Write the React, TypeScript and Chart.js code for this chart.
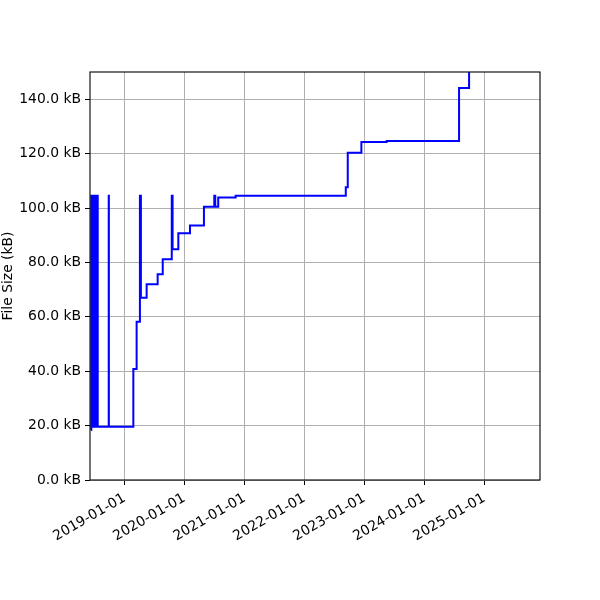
import { useEffect, useRef } from "react";
import { Chart, registerables } from "chart.js";
import type { Plugin } from "chart.js";

Chart.register(...registerables);

// commit dates and file size (kB) at each commit
const commitDates = [
  "2018-06-11", "2018-06-13", "2018-06-16", "2018-06-18", "2018-06-21",
  "2018-06-23", "2018-06-26", "2018-06-28", "2018-07-01", "2018-07-03",
  "2018-07-06", "2018-07-08", "2018-07-11", "2018-07-13", "2018-07-16",
  "2018-07-18", "2018-07-22", "2018-09-27", "2018-09-28", "2019-02-24",
  "2019-03-16", "2019-04-05", "2019-04-11", "2019-05-16", "2019-07-22",
  "2019-08-22", "2019-10-16", "2019-10-21", "2019-11-25", "2020-02-04",
  "2020-04-29", "2020-07-01", "2020-07-07", "2020-07-25", "2020-11-08",
  "2022-09-10", "2022-09-22", "2022-12-14", "2023-05-17", "2024-07-31",
  "2024-09-30", "2025-10-15",
];
const fileSizes = [
  18.4, 104.5, 19.6, 104.5, 19.6,
  104.5, 19.6, 104.5, 19.6, 104.5,
  19.6, 104.5, 19.6, 104.5, 19.6,
  104.5, 19.6, 104.5, 19.6, 40.8,
  58.2, 104.5, 67.0, 72.0, 75.6,
  81.2, 104.5, 84.8, 90.7, 93.6,
  100.5, 104.5, 100.5, 103.9, 104.5,
  107.6, 120.3, 124.3, 124.6, 144.1,
  158.0, 158.0,
];
const yearTicks = [
  "2019-01-01", "2020-01-01", "2021-01-01", "2022-01-01",
  "2023-01-01", "2024-01-01", "2025-01-01",
];
const sizeTicks = [0, 20, 40, 60, 80, 100, 120, 140];
const xRange = ["2018-06-05", "2025-12-06"];

const FONT = "'DejaVu Sans', sans-serif";
const FONT_SIZE = 13.9;

const framePlugin: Plugin = {
  id: "frame",
  afterDatasetsDraw(chart) {
    const { ctx, chartArea } = chart;
    ctx.save();
    ctx.strokeStyle = "#000";
    ctx.lineWidth = 1.1;
    ctx.strokeRect(
      chartArea.left,
      chartArea.top,
      chartArea.right - chartArea.left,
      chartArea.bottom - chartArea.top
    );
    ctx.restore();
  },
};

const SizeChart = () => {
  const chartRef = useRef<HTMLCanvasElement | null>(null);
  const chartInstance = useRef<Chart | null>(null);

  useEffect(() => {
    if (!chartRef.current) return;
    if (chartInstance.current) chartInstance.current.destroy();

    const points = commitDates.map((d, i) => ({
      x: Date.parse(d),
      y: fileSizes[i],
    }));

    chartInstance.current = new Chart(chartRef.current, {
      type: "line",
      data: {
        datasets: [
          {
            data: points,
            borderColor: "#0000ff",
            borderWidth: 2,
            pointRadius: 0,
            stepped: "before",
            tension: 0,
            fill: false,
          },
        ],
      },
      options: {
        animation: false,
        responsive: true,
        maintainAspectRatio: false,
        layout: { padding: { top: 72, right: 60, bottom: 0, left: 0 } },
        plugins: {
          legend: { display: false },
          tooltip: { enabled: false },
        },
        scales: {
          x: {
            type: "linear",
            bounds: "data",
            min: Date.parse(xRange[0]),
            max: Date.parse(xRange[1]),
            afterBuildTicks: (scale: any) => {
              scale.ticks = yearTicks.map((d) => ({ value: Date.parse(d) }));
            },
            afterFit: (scale: any) => {
              scale.height = 120;
            },
            border: { display: false },
            grid: {
              color: "#b0b0b0",
              lineWidth: 1,
              tickColor: "#000",
              tickLength: 5,
              tickWidth: 1,
            },
            ticks: {
              autoSkip: false,
              maxRotation: 30,
              minRotation: 30,
              padding: 5,
              color: "#000",
              font: { family: FONT, size: FONT_SIZE },
              callback: (v: any) => new Date(v).toISOString().slice(0, 10),
            },
          },
          y: {
            type: "linear",
            bounds: "data",
            min: 0,
            max: 150,
            afterBuildTicks: (scale: any) => {
              scale.ticks = sizeTicks.map((v) => ({ value: v }));
            },
            afterFit: (scale: any) => {
              scale.width = 90;
            },
            border: { display: false },
            grid: {
              color: "#b0b0b0",
              lineWidth: 1,
              tickColor: "#000",
              tickLength: 5,
              tickWidth: 1,
            },
            ticks: {
              padding: 4,
              color: "#000",
              font: { family: FONT, size: FONT_SIZE },
              callback: (v: any) => `${Number(v).toFixed(1)} kB`,
            },
            title: {
              display: true,
              text: "File Size (kB)",
              color: "#000",
              padding: { top: 0, bottom: 0 },
              font: { family: FONT, size: FONT_SIZE },
            },
          },
        },
      },
      plugins: [framePlugin],
    });

    return () => {
      if (chartInstance.current) {
        chartInstance.current.destroy();
        chartInstance.current = null;
      }
    };
  }, []);

  return (
    <div
      style={{
        position: "fixed",
        top: 0,
        left: 0,
        width: 600,
        height: 600,
        background: "#fff",
      }}
    >
      <canvas ref={chartRef} />
    </div>
  );
};

export default function App() {
  return <SizeChart />;
}
